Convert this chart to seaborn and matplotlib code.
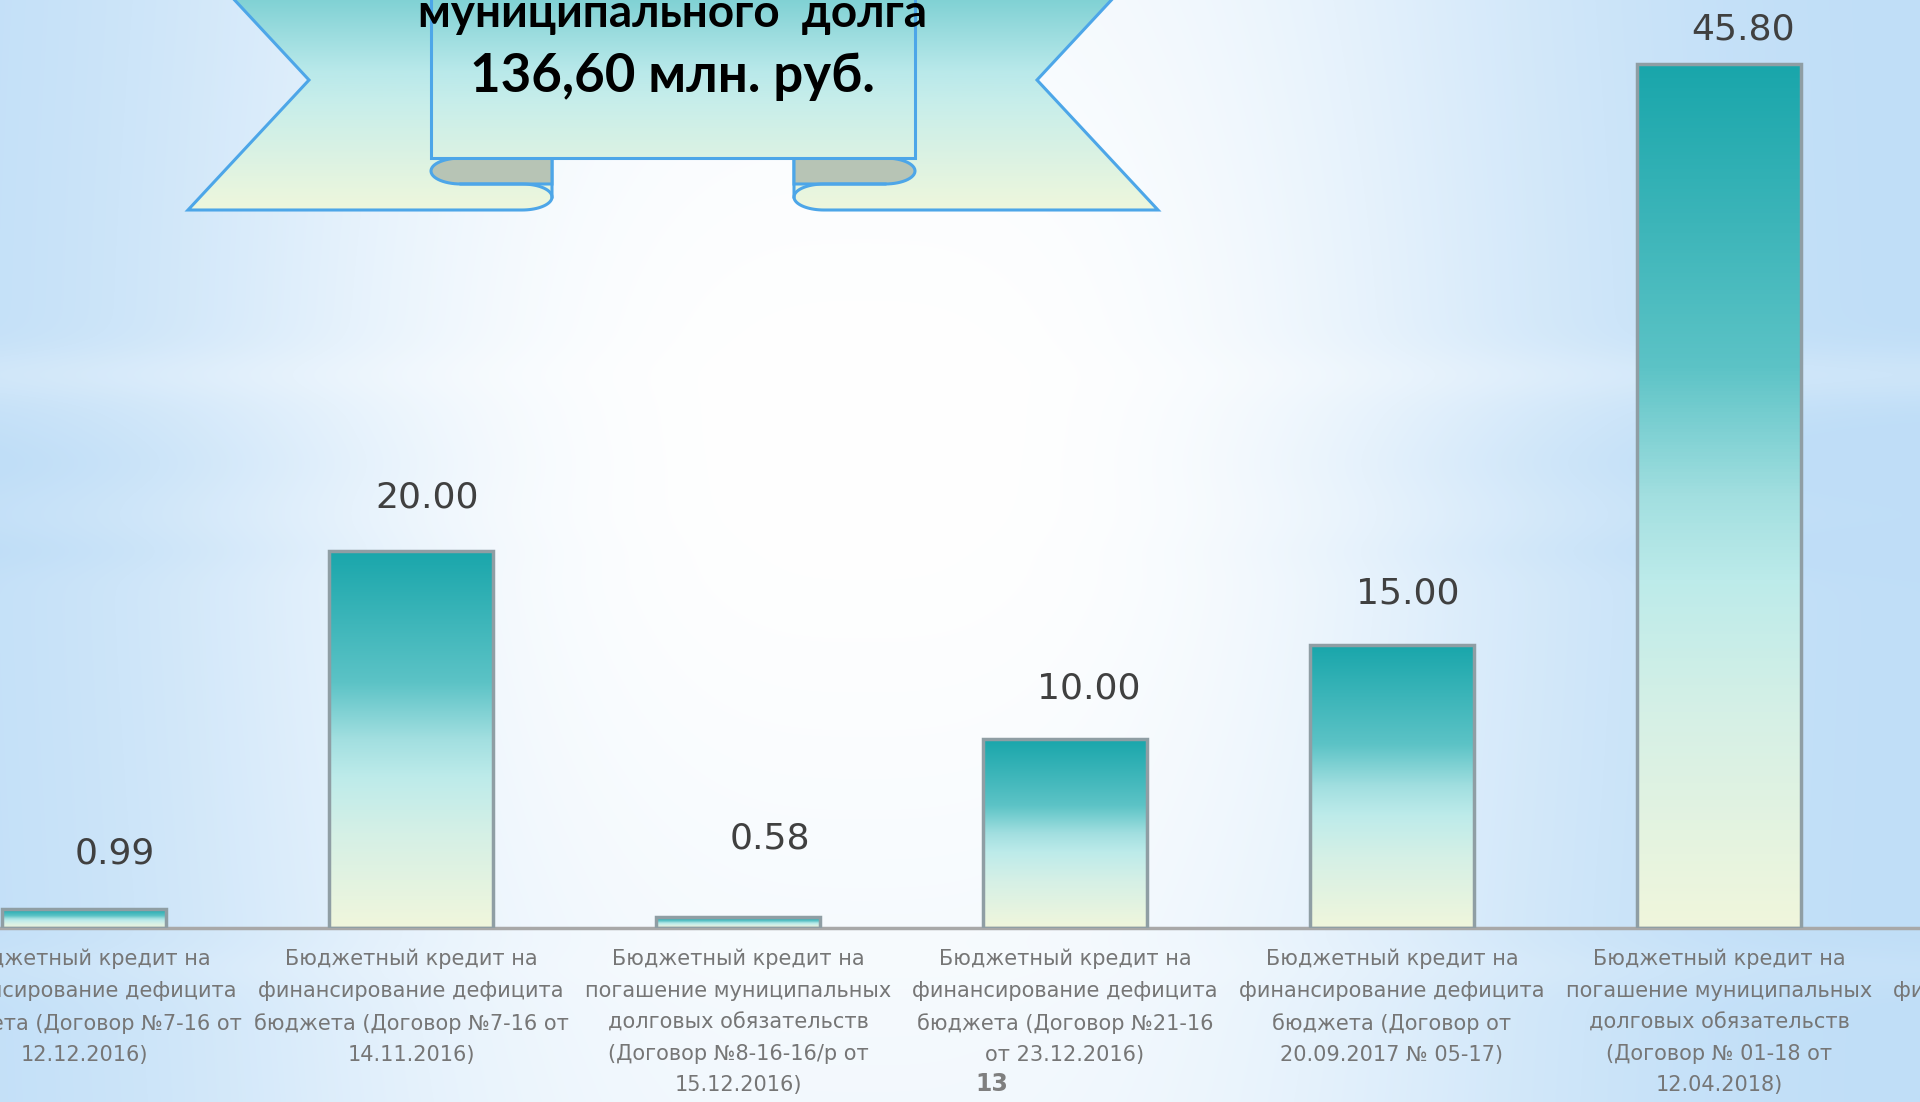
import numpy as np
import pandas as pd
import matplotlib.pyplot as plt
import seaborn as sns
from matplotlib.colors import LinearSegmentedColormap
from matplotlib.patches import Polygon, Rectangle

categories = [
    "Бюджетный кредит на\nфинансирование дефицита\nбюджета (Договор №7-16 от\n12.12.2016)",
    "Бюджетный кредит на\nфинансирование дефицита\nбюджета (Договор №7-16 от\n14.11.2016)",
    "Бюджетный кредит на\nпогашение муниципальных\nдолговых обязательств\n(Договор №8-16-16/р от\n15.12.2016)",
    "Бюджетный кредит на\nфинансирование дефицита\nбюджета (Договор №21-16\nот 23.12.2016)",
    "Бюджетный кредит на\nфинансирование дефицита\nбюджета (Договор от\n20.09.2017 № 05-17)",
    "Бюджетный кредит на\nпогашение муниципальных\nдолговых обязательств\n(Договор № 01-18 от\n12.04.2018)",
    "Бюджетный кредит на\nфинансирование дефицита\nбюджета",
]
values = [0.99, 20.00, 0.58, 10.00, 15.00, 45.80]
title_top = "муниципального  долга"
title_sum = "136,60 млн. руб."
page_no = "13"

W, H = 1920, 1102
fig = plt.figure(figsize=(19.2, 11.02), dpi=100)

# фон: голубые края, белый центр, слабые горизонтальные полосы
bg = fig.add_axes([0, 0, 1, 1], zorder=0)
yy, xx = np.mgrid[0:1:H * 1j, 0:1:W * 1j]
w = np.exp(-np.abs((xx - 0.45) / 0.34) ** 3) * (0.75 + 0.25 * np.exp(-((yy - 0.4) / 0.5) ** 2))
band = 0.25 * np.exp(-((yy - 0.34) / 0.025) ** 2) - 0.12 * np.exp(-((yy - 0.42) / 0.03) ** 2) \
       - 0.1 * np.exp(-((yy - 0.5) / 0.02) ** 2) + 0.12 * np.exp(-((yy - 0.88) / 0.02) ** 2)
w = np.clip(w + band * (1 - w) * 0.8, 0, 1)[..., None]
blue = np.array([0.75, 0.87, 0.97])
img = blue * (1 - w) + np.ones(3) * w
bg.imshow(img, extent=[0, W, H, 0], aspect="auto")
bg.set_xlim(0, W)
bg.set_ylim(H, 0)
bg.axis("off")

# основной график
ax = fig.add_axes([-79.5 / W, 174 / H, 2289 / W, 905 / H], zorder=1)
ax.patch.set_alpha(0)
df = pd.DataFrame({"cat": categories[:6], "val": values})
sns.barplot(data=df, x="cat", y="val", order=categories, width=0.5, ax=ax,
            color="white", edgecolor="#8f9ea4", linewidth=2.5)

bar_cmap = LinearSegmentedColormap.from_list("bar", [
    (0.0, "#F0F6DC"), (0.25, "#D5F0E6"), (0.4, "#BDEBEA"),
    (0.5, "#A2DFE0"), (0.65, "#5CC3C6"), (1.0, "#19A6AB")])
grad = np.linspace(0, 1, 256).reshape(-1, 1)
for p in list(ax.patches):
    x0, y0, bw, bh = p.get_x(), p.get_y(), p.get_width(), p.get_height()
    im = ax.imshow(grad, extent=[x0, x0 + bw, y0, y0 + bh], origin="lower",
                   aspect="auto", cmap=bar_cmap, zorder=2)
    im.set_clip_path(p)
    p.set_facecolor("none")
    p.set_zorder(3)

ax.set_xlim(-0.5, 6.5)
ax.set_ylim(0, 48)

label_dx = [31, 16, 32, 24, 16, 24]
label_dy = [56, 53, 79, 51, 52, 35]
for i, v in enumerate(values):
    ax.annotate(f"{v:.2f}", (i, v), xytext=(label_dx[i], label_dy[i]),
                textcoords="offset pixels", ha="center", va="center",
                fontsize=26, color="#404040", family="DejaVu Sans", zorder=4)

for s in ["top", "right", "left"]:
    ax.spines[s].set_visible(False)
ax.spines["bottom"].set_color("#a8a8a8")
ax.spines["bottom"].set_linewidth(2.5)
ax.set_yticks([])
ax.set_xlabel("")
ax.set_ylabel("")
ax.tick_params(axis="x", length=0, pad=15, labelsize=15, labelcolor="#767676")
for t in ax.get_xticklabels():
    t.set_linespacing(1.72)
    t.set_family("DejaVu Sans")

# лента с заголовком
ov = fig.add_axes([0, 0, 1, 1], zorder=5)
ov.set_xlim(0, W)
ov.set_ylim(H, 0)
ov.axis("off")
rib_cmap = LinearSegmentedColormap.from_list("rib", [
    (0.0, "#7DD0D3"), (0.35, "#B9E9EA"), (0.5, "#C8EEEA"), (1.0, "#EFF7DC")])
edge = "#4da6e8"


def ribbon_fill(patch):
    ov.add_patch(patch)
    im = ov.imshow(np.linspace(0, 1, 256).reshape(-1, 1), extent=[150, 1200, 212, -5],
                   aspect="auto", cmap=rib_cmap, zorder=patch.get_zorder() - 0.1)
    im.set_clip_path(patch)
    ov.set_xlim(0, W)
    ov.set_ylim(H, 0)


cx = 673
for sgn in [1, -1]:
    mx = lambda x: x if sgn == 1 else 2 * cx - x
    ang = np.linspace(np.pi / 2, 0, 20)
    arc = [(mx(522 + 30 * np.cos(a)), 197 + 13 * np.sin(a)) for a in ang]
    tail = [(mx(216), -20), (mx(309), 80), (mx(188), 210), (mx(522), 210)] + arc + [(mx(552), -20)]
    ribbon_fill(Polygon(tail, closed=True, facecolor="none", edgecolor=edge, lw=2.2, zorder=2))
    # загнутый край
    ang2 = np.linspace(np.pi / 2, 3 * np.pi / 2, 30)
    curl = [(mx(552), 158), (mx(461), 158)] + \
           [(mx(461 + 30 * np.cos(a)), 171 - 13 * np.sin(a)) for a in ang2] + [(mx(552), 184)]
    ov.add_patch(Polygon(curl, closed=True, facecolor="#b7c4b5", edgecolor=edge, lw=2.2, zorder=3))
    ang3 = np.linspace(-np.pi / 2, 0, 20)
    low = [(mx(461), 184)] + [(mx(522 + 30 * np.cos(a)), 197 + 13 * np.sin(a)) for a in ang3]
    ov.plot([p[0] for p in low], [p[1] for p in low], color=edge, lw=2.2, zorder=3.5)

ribbon_fill(Rectangle((431, -20), 484, 178, facecolor="none", edgecolor=edge, lw=2.2, zorder=4))

ov.text(672, 27, title_top, ha="center", va="baseline", fontsize=33,
        fontweight="bold", family="Lato", color="black", zorder=6)
ov.text(672, 92, title_sum, ha="center", va="baseline", fontsize=38,
        fontweight="bold", family="Lato", color="black", zorder=6)
ov.text(992, 1084, page_no, ha="center", va="center", fontsize=17,
        fontweight="bold", color="#7f7f7f", zorder=6)

fig.savefig("out.png", dpi=100)
